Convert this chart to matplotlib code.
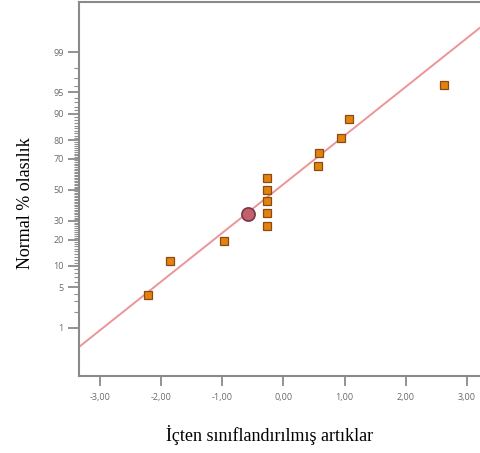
from statistics import NormalDist
import numpy as np
import matplotlib
matplotlib.use("Agg")
import matplotlib.pyplot as plt

# residuals (x) and normal % probability (y)
resid = [-2.22, -1.85, -0.97, -0.26, -0.26, -0.26, -0.26, -0.26, 0.57, 0.59, 0.95, 1.08, 2.63]
prob = [3.85, 11.5, 19.2, 26.9, 34.6, 42.3, 50.0, 57.7, 65.4, 73.1, 80.8, 88.5, 96.2]

# highlighted point
hl_x = [-0.57]
hl_prob = [34.3]

# reference line: z = intercept + slope * x
line_intercept = 0.095
line_slope = 0.822

x_ticks = [-3, -2, -1, 0, 1, 2, 3]
y_major = [1, 5, 10, 20, 30, 50, 70, 80, 90, 95, 99]
y_minor = [p for p in range(2, 99) if p not in y_major]

nd = NormalDist()
def to_z(p):
    return [nd.inv_cdf(v / 100.0) for v in p]

fig = plt.figure(figsize=(4.81, 4.53), dpi=100)
ax = fig.add_axes([79 / 481, 1 - 376 / 453, 1 - 79 / 481, 374 / 453])

xl = (-3.34, 3.23)
xs = np.array(xl)
ax.plot(xs, line_intercept + line_slope * xs, color="#ec9597", lw=1.4, zorder=2)
ax.plot(resid, to_z(prob), "s", ms=5.8, mfc="#e3820f", mec="#8a4a12", mew=0.9, zorder=3)
ax.plot(hl_x, to_z(hl_prob), "o", ms=9.5, mfc="#c4606b", mec="#74384a", mew=1.2, zorder=4)

ax.set_xlim(*xl)
ax.set_ylim(-3.14, 3.17)

ax.set_xticks(x_ticks)
ax.set_xticklabels([f"{v:.2f}".replace(".", ",") for v in x_ticks])
ax.set_yticks(to_z(y_major))
ax.set_yticklabels([str(v) for v in y_major])
ax.set_yticks(to_z(y_minor), minor=True)

for lab in ax.get_xticklabels() + ax.get_yticklabels():
    lab.set_fontfamily("Open Sans")
    lab.set_fontsize(6.5)

ax.tick_params(axis="x", which="major", length=7, width=1.2, color="#808080",
               labelcolor="#6a6a6a", pad=5)
ax.tick_params(axis="y", which="major", length=8, width=1.2, color="#808080",
               labelcolor="#6a6a6a", pad=3)
ax.tick_params(axis="y", which="minor", length=3.5, width=0.8, color="#909090")

for s in ["left", "bottom", "top"]:
    ax.spines[s].set_color("#8a8a8a")
    ax.spines[s].set_linewidth(1.5)
ax.spines["right"].set_visible(False)

fig.text(270 / 481, 1 - 435 / 453, "İçten sınıflandırılmış artıklar",
         family="Liberation Serif", fontsize=13, ha="center", va="center")
fig.text(26 / 481, 1 - 203 / 453, "Normal % olasılık", family="Liberation Serif",
         fontsize=13, ha="center", va="center", rotation=90)

fig.savefig("out.png", dpi=100)
